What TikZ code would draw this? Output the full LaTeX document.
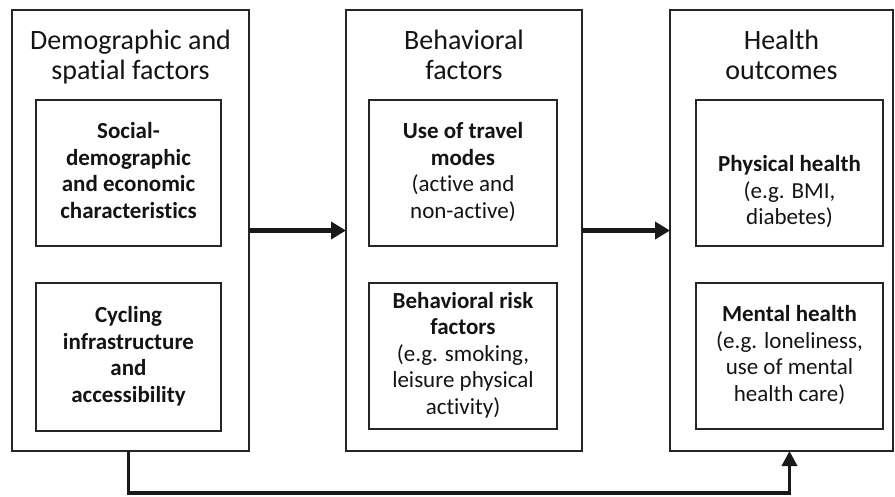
\documentclass[tikz,border=0pt]{standalone}
\usepackage{fontspec}
\setmainfont[Ligatures=NoCommon]{Carlito}
\newfontfamily\titlefont[Ligatures=NoCommon]{Carlito}
\usetikzlibrary{arrows.meta}
\definecolor{boxline}{HTML}{262626}
\definecolor{txt}{HTML}{141414}
\begin{document}
\begin{tikzpicture}[x=1pt,y=-1pt,
  obox/.style={draw=boxline, line width=1.4pt, minimum height=441pt, inner sep=0pt, outer sep=0pt},
  ibox/.style={draw=boxline, line width=1.4pt, minimum width=187pt, minimum height=146pt, inner sep=0pt, outer sep=0pt},
  ttl/.style={align=center, inner sep=0pt, text=txt, font=\titlefont\fontsize{28}{29.5}\selectfont},
  itxt/.style={align=center, inner sep=0pt, text=txt, font=\fontsize{23}{26.5}\selectfont},
  bigarrow/.style={draw=black!90, line width=4.5pt, -{Triangle[length=15pt,width=17pt]}},
  lowarrow/.style={draw=black!90, line width=3.5pt, line join=miter, -{Triangle[length=15pt,width=15pt]}}
]
\fill[white] (0,0) rectangle (895,496);
\useasboundingbox (0,0) rectangle (895,496);

% outer boxes
\node[obox, minimum width=237pt] (o1) at (130.5,230.5) {};
\node[obox, minimum width=236pt] (o2) at (464,230.5) {};
\node[obox, minimum width=223pt] (o3) at (781.5,230.5) {};

% titles
\node[ttl] (t1) at (130.5,58.7) {Demographic and\strut\\spatial factors\strut};
\node[ttl] (t2) at (464,58.7) {Behavioral\strut\\factors\strut};
\node[ttl] (t3) at (781.5,58.7) {Health\strut\\outcomes\strut};

% inner boxes
\node[ibox, minimum width=185pt] (b1a) at (128.5,173) {};
\node[ibox, minimum width=185pt, minimum height=148pt] (b1b) at (128.5,357) {};
\node[ibox, minimum width=188pt] (b2a) at (463,173) {};
\node[ibox, minimum width=188pt] (b2b) at (463,356) {};
\node[ibox] (b3a) at (789.5,173) {};
\node[ibox] (b3b) at (789.5,356) {};

% inner texts
\node[itxt] (x1a) at (b1a.center) {\textbf{Social-}\strut\\\textbf{demographic}\strut\\\textbf{and economic}\strut\\\textbf{characteristics}\strut};
\node[itxt] (x1b) at (b1b.center) {\textbf{Cycling}\strut\\\textbf{infrastructure}\strut\\\textbf{and}\strut\\\textbf{accessibility}\strut};
\node[itxt] (x2a) at (b2a.center) {\textbf{Use of travel}\strut\\\textbf{modes}\strut\\(active and\strut\\non-active)\strut};
\node[itxt] (x2b) at (b2b.center) {\textbf{Behavioral risk}\strut\\\textbf{factors}\strut\\(e.g. smoking,\strut\\leisure physical\strut\\activity)\strut};
\node[itxt] (x3a) at ([yshift=-20pt]b3a.center) {\textbf{Physical health}\strut\\(e.g. BMI,\strut\\diabetes)\strut};
\node[itxt] (x3b) at (b3b.center) {\textbf{Mental health}\strut\\(e.g. loneliness,\strut\\use of mental\strut\\health care)\strut};

% connectors
\draw[bigarrow] (o1.east) -- (o2.west);
\draw[bigarrow] (o2.east) -- (o3.west);
\draw[lowarrow] (o1.south -| b1b.center) -- ++(0,42) -| (o3.south -| b3b.center);
\end{tikzpicture}
\end{document}
